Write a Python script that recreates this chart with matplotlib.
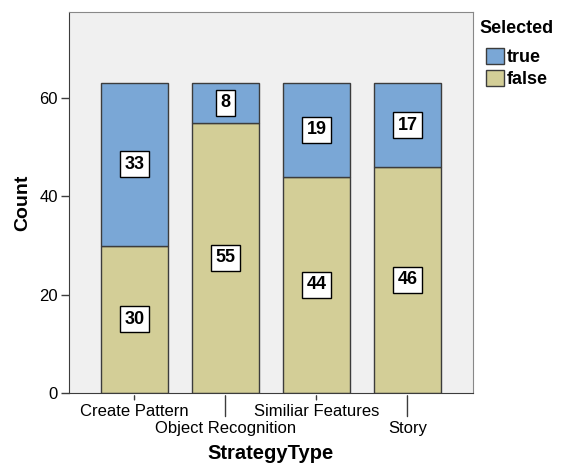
import matplotlib.pyplot as plt
import numpy as np
from matplotlib.patches import Patch

categories = ["Create Pattern", "Object Recognition", "Similiar Features", "Story"]
false_counts = [30, 55, 44, 46]
true_counts = [33, 8, 19, 17]

plt.rcParams["font.family"] = ["Liberation Sans", "DejaVu Sans"]

blue = "#7aa7d6"
tan = "#d3ce97"
edge = "#3c3c3c"

fig = plt.figure(figsize=(5.63, 4.66), dpi=100)
ax = fig.add_axes([0.1226, 0.1567, 0.7175, 0.8175])
ax.set_facecolor("#f0f0f0")

x = np.arange(len(categories))
w = 0.74
ax.bar(x, false_counts, w, color=tan, edgecolor=edge, linewidth=1)
ax.bar(x, true_counts, w, bottom=false_counts, color=blue, edgecolor=edge, linewidth=1)

box = dict(boxstyle="square,pad=0.25", facecolor="white", edgecolor="black", linewidth=1)
for i in range(len(categories)):
    ax.text(x[i], false_counts[i] / 2, str(false_counts[i]), ha="center", va="center",
            fontsize=13, fontweight="bold", bbox=box)
    ax.text(x[i], false_counts[i] + true_counts[i] / 2, str(true_counts[i]), ha="center",
            va="center", fontsize=13, fontweight="bold", bbox=box)

ax.set_xlim(-0.72, 3.72)
ax.set_ylim(0, 77.5)
ax.set_yticks([0, 20, 40, 60])
ax.tick_params(axis="y", labelsize=12, length=6, width=1, color=edge, pad=2)

# staggered category labels with short and long tick marks
ax.set_xticks(x)
ax.set_xticklabels([])
ax.tick_params(axis="x", length=0)
for i, name in enumerate(categories):
    drop = 7 if i % 2 == 0 else 19
    ax.annotate("", xy=(x[i], 0), xycoords="data", xytext=(0, -drop),
                textcoords="offset points", arrowprops=dict(arrowstyle="-", color=edge, lw=1))
    ax.annotate(name, xy=(x[i], 0), xycoords="data", xytext=(0, -8 - (0 if i % 2 == 0 else 12.5)),
                textcoords="offset points", ha="center", va="top", fontsize=12)

for s in ["left", "bottom"]:
    ax.spines[s].set_color(edge)
for s in ["top", "right"]:
    ax.spines[s].set_color("#888888")

ax.set_ylabel("Count", fontsize=14, fontweight="bold", labelpad=6)
fig.text(0.48, 0.027, "StrategyType", ha="center", va="center", fontsize=14.5, fontweight="bold")

handles = [Patch(facecolor=blue, edgecolor=edge, label="true"),
           Patch(facecolor=tan, edgecolor=edge, label="false")]
leg = fig.legend(handles=handles, loc="upper left", bbox_to_anchor=(0.852, 0.957),
                 title="Selected", frameon=False, fontsize=13, handlelength=1.0,
                 handleheight=1.0, handletextpad=0.15, labelspacing=0.2,
                 borderpad=0, borderaxespad=0, title_fontproperties={"weight": "bold", "size": 13})
leg._legend_box.sep = 8
for t in leg.get_texts():
    t.set_fontweight("bold")

fig.savefig("out.png", dpi=100)
